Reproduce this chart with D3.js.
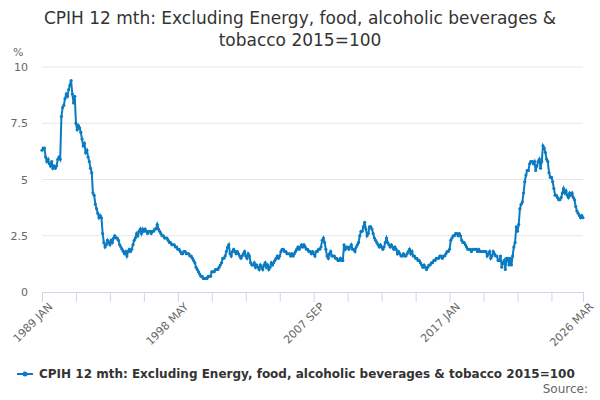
<!DOCTYPE html>
<html>
<head>
<meta charset="utf-8">
<script src="https://cdn.jsdelivr.net/npm/d3@7"></script>
<style>
  body { margin: 0; font-family: "DejaVu Sans", sans-serif; background: #fff; }
</style>
</head>
<body>
<div id="chart"></div>
<script>
const years = d3.range(1989, 2027);
const monthNames = ["JAN","FEB","MAR","APR","MAY","JUN","JUL","AUG","SEP","OCT","NOV","DEC"];
const yTicks = [0, 2.5, 5, 7.5, 10];
const xLabelEvery = 112;
const xTickEvery = 28;
const seriesName = "CPIH 12 mth: Excluding Energy, food, alcoholic beverages & tobacco 2015=100";

const values = [
  6.3,6.4,6.4,6.0,5.8,5.9,5.7,5.6,5.8,5.5,5.6,5.5,
  5.6,5.9,6.0,5.9,7.8,8.2,8.3,8.6,8.8,8.7,9.0,9.2,
  9.4,8.8,8.4,8.7,7.5,7.2,7.4,7.3,7.1,6.8,6.5,6.6,
  6.2,6.3,6.0,5.8,5.5,5.3,4.4,4.3,3.9,3.7,3.5,3.3,
  3.4,3.3,2.6,2.2,2.0,2.1,2.3,2.2,2.1,2.3,2.2,2.4,
  2.5,2.4,2.4,2.3,2.1,2.0,1.9,1.8,1.7,1.8,1.6,1.8,
  1.9,1.8,1.9,2.1,2.3,2.4,2.6,2.5,2.7,2.8,2.6,2.8,
  2.7,2.8,2.7,2.6,2.7,2.7,2.6,2.7,2.7,2.8,2.8,3.0,
  2.8,2.7,2.6,2.5,2.5,2.4,2.4,2.4,2.3,2.2,2.2,2.1,
  2.1,2.1,2.0,2.0,1.9,1.9,1.8,1.7,1.7,1.8,1.8,1.7,
  1.7,1.7,1.6,1.6,1.5,1.4,1.3,1.1,1.0,0.9,0.8,0.7,
  0.7,0.6,0.6,0.6,0.6,0.7,0.7,0.7,0.9,0.9,0.9,1.0,
  1.0,1.0,1.1,1.2,1.3,1.5,1.5,1.6,1.8,2.0,2.1,1.7,
  1.6,1.8,1.9,1.8,1.7,1.8,1.7,1.6,1.5,1.6,1.7,1.8,
  1.6,1.5,1.7,1.6,1.3,1.2,1.2,1.3,1.1,1.2,1.1,1.0,
  1.2,1.1,1.0,1.2,1.3,1.1,1.2,1.0,1.1,1.3,1.2,1.3,
  1.4,1.5,1.6,1.5,1.6,1.8,1.9,1.9,1.8,1.8,1.7,1.7,
  1.7,1.6,1.7,1.6,1.7,1.8,1.9,2.0,1.9,2.0,2.1,2.0,
  2.1,2.0,1.9,1.9,1.8,1.8,1.7,1.8,1.7,1.6,1.8,1.8,
  1.9,1.9,2.0,2.3,2.4,2.2,1.9,1.6,1.5,1.7,1.8,1.6,
  1.6,1.6,1.5,1.5,1.4,1.4,1.5,1.4,1.4,2.1,1.9,2.0,
  2.0,1.9,2.0,2.1,1.9,1.9,1.8,2.0,2.1,2.2,2.5,2.7,
  2.7,2.9,3.1,2.8,2.5,2.6,2.9,2.9,2.8,2.6,2.4,2.3,
  2.2,2.1,2.0,2.1,2.0,1.9,2.0,2.2,2.4,2.2,2.1,2.0,
  2.1,2.0,1.9,2.0,1.9,1.7,1.8,1.7,1.6,1.6,1.7,1.6,
  1.6,1.7,1.8,1.9,1.7,1.8,1.6,1.6,1.5,1.5,1.4,1.4,
  1.3,1.2,1.1,1.2,1.1,1.0,1.1,1.2,1.2,1.3,1.3,1.4,
  1.4,1.5,1.5,1.5,1.6,1.6,1.5,1.6,1.6,1.7,1.8,1.8,
  1.9,2.3,2.4,2.5,2.5,2.6,2.6,2.5,2.6,2.5,2.3,2.2,
  2.2,2.1,2.0,1.9,1.9,1.9,1.8,1.9,1.9,1.9,1.9,1.8,
  1.9,1.8,1.8,1.8,1.8,1.8,1.8,1.6,1.7,1.8,1.5,1.6,
  1.8,1.7,1.6,1.6,1.4,1.4,1.6,1.1,1.3,1.4,1.0,1.5,
  1.5,1.2,1.5,1.2,1.6,2.0,2.2,2.9,2.7,3.0,3.7,3.9,
  4.0,4.4,4.9,5.2,5.4,5.4,5.7,5.8,5.8,5.7,5.8,5.4,
  5.6,5.8,5.9,5.5,5.8,6.5,6.4,6.2,5.9,5.8,5.3,5.1,
  5.1,4.9,4.6,4.3,4.3,4.2,4.1,4.1,4.2,4.4,4.6,4.4,
  4.5,4.3,4.2,4.4,4.3,4.4,4.2,4.1,3.8,3.6,3.5,3.4,
  3.3,3.4,3.3
];

const categories = [];
years.forEach(y => monthNames.forEach(m => categories.push(y + " " + m)));
categories.length = values.length;

const W = 600, H = 400;
const margin = { top: 67, right: 17, bottom: 108, left: 42 };
const svg = d3.select("#chart").append("svg").attr("width", W).attr("height", H);

svg.append("text").attr("x", 300).attr("y", 24).attr("text-anchor", "middle")
  .attr("font-size", 17).attr("fill", "#333")
  .text("CPIH 12 mth: Excluding Energy, food, alcoholic beverages &");
svg.append("text").attr("x", 300).attr("y", 46).attr("text-anchor", "middle")
  .attr("font-size", 17).attr("fill", "#333").text("tobacco 2015=100");

const x = d3.scalePoint().domain(categories).range([margin.left, W - margin.right]);
const y = d3.scaleLinear().domain([0, 10]).range([H - margin.bottom, margin.top]);

// grid + y labels
svg.append("g").selectAll("line").data(yTicks.slice(1)).join("line")
  .attr("x1", margin.left).attr("x2", W - margin.right)
  .attr("y1", d => y(d)).attr("y2", d => y(d))
  .attr("stroke", "#e6e6e6");
svg.append("g").selectAll("text").data(yTicks).join("text")
  .attr("x", 28).attr("y", d => y(d) + 4).attr("text-anchor", "end")
  .attr("font-size", 11).attr("fill", "#666").text(d => d);
svg.append("text").attr("x", 13).attr("y", 56).attr("font-size", 11).attr("fill", "#666").text("%");

// x axis
const tickCats = categories.filter((_, i) => i % xTickEvery === 0 || i === categories.length - 1);
const labelCats = categories.filter((_, i) => i % xLabelEvery === 0 || i === categories.length - 1);
const xAxis = svg.append("g").attr("transform", `translate(0,${H - margin.bottom})`)
  .call(d3.axisBottom(x).tickValues(tickCats).tickSize(10).tickFormat(d => labelCats.includes(d) ? d : ""));
xAxis.select(".domain").attr("stroke", "#ccd6eb");
xAxis.selectAll(".tick line").attr("stroke", "#ccd6eb");
xAxis.selectAll(".tick text").attr("font-size", 11).attr("fill", "#666")
  .attr("font-family", "DejaVu Sans")
  .attr("text-anchor", "end").attr("dx", "-0.3em").attr("dy", "0.5em")
  .attr("transform", "rotate(-45)");

const color = "#0b7bc1";
const line = d3.line().x((d, i) => x(categories[i])).y(d => y(d));
svg.append("path").datum(values).attr("d", line).attr("fill", "none")
  .attr("stroke", color).attr("stroke-width", 2);
svg.append("g").selectAll("circle").data(values).join("circle")
  .attr("cx", (d, i) => x(categories[i])).attr("cy", d => y(d))
  .attr("r", 1.6).attr("fill", color);

// legend
const ly = 374;
svg.append("line").attr("x1", 17).attr("x2", 33).attr("y1", ly).attr("y2", ly)
  .attr("stroke", color).attr("stroke-width", 2);
svg.append("circle").attr("cx", 25).attr("cy", ly).attr("r", 2.5).attr("fill", color);
svg.append("text").attr("x", 39).attr("y", ly + 4).attr("font-size", 12)
  .attr("font-weight", "bold").attr("fill", "#333").text(seriesName);
svg.append("text").attr("x", 588).attr("y", 393).attr("text-anchor", "end")
  .attr("font-size", 12).attr("fill", "#666").text("Source:");
</script>
</body>
</html>
